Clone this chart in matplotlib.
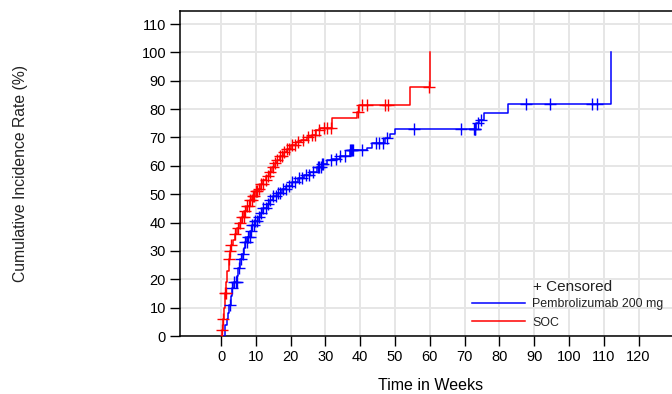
import numpy as np
import matplotlib
matplotlib.use("Agg")
import matplotlib.pyplot as plt
from matplotlib.lines import Line2D

plt.rcParams["font.family"] = ["Liberation Sans", "DejaVu Sans"]

# Cumulative incidence step functions (time in weeks, cumulative %)
pembro_times = [0.0, 1.2, 1.6, 2.0, 2.4, 2.8, 3.2, 3.6, 4.6, 5.0, 5.5, 6.0, 6.5,
                7.0, 7.6, 8.3, 9.0, 9.8, 10.5, 11.2, 12.2, 13.1, 14.0, 15.0,
                16.2, 17.4, 18.8, 20.4, 22.0, 23.8, 25.5, 27.5, 29.0, 30.5,
                32.0, 34.2, 37.0, 41.9, 43.3, 47.0, 48.6, 50.0, 73.3, 74.1,
                75.7, 82.4, 112.1]
pembro_rate = [0.0, 4.0, 6.0, 8.0, 11.0, 14.0, 17.0, 19.0, 21.0, 24.0, 27.0,
               29.0, 31.0, 33.0, 35.0, 37.0, 39.0, 40.5, 42.0, 43.5, 45.0,
               46.5, 48.0, 49.5, 50.5, 52.0, 53.0, 54.4, 55.6, 56.8, 58.0,
               59.5, 60.5, 62.0, 62.5, 63.5, 65.6, 66.4, 68.0, 69.7, 71.4,
               72.9, 75.0, 76.0, 78.7, 81.7, 100.0]
pembro_censored = [2.6, 3.2, 3.8, 4.2, 4.5, 5.2, 5.8, 6.4, 7.0, 7.4, 7.8, 8.2,
                   8.6, 9.0, 9.4, 9.8, 10.4, 11.0, 11.6, 12.2, 12.8, 13.4,
                   14.2, 15.0, 15.8, 16.4, 17.0, 17.8, 18.6, 19.4, 20.4, 21.2,
                   22.5, 23.2, 24.4, 25.4, 26.5, 27.8, 28.2, 28.6, 29.0, 29.4,
                   31.5, 33.0, 34.2, 35.5, 37.0, 37.3, 37.6, 38.0, 40.5, 44.5,
                   45.5, 46.5, 47.8, 55.5, 69.0, 72.6, 72.9, 73.1, 74.0, 74.8,
                   87.8, 94.5, 106.6, 108.2]

soc_times = [0.0, 0.2, 0.5, 0.8, 1.1, 1.4, 1.8, 2.2, 2.6, 3.0, 3.5, 4.0, 4.6,
             5.3, 6.0, 6.7, 7.4, 8.2, 9.0, 9.8, 10.6, 11.4, 12.2, 13.0, 13.8,
             14.6, 15.4, 16.2, 17.0, 18.0, 19.0, 20.0, 21.5, 23.0, 24.6, 26.0,
             27.3, 28.5, 31.9, 39.0, 39.6, 54.3, 60.0]
soc_rate = [0.0, 2.0, 6.0, 10.0, 15.0, 19.0, 23.0, 27.0, 30.0, 32.0, 34.0,
            36.0, 38.0, 40.0, 42.0, 44.0, 46.0, 48.0, 49.5, 51.0, 52.0, 53.5,
            55.0, 56.5, 58.0, 59.5, 61.0, 62.0, 63.5, 65.0, 66.0, 67.5, 68.5,
            69.0, 70.0, 71.0, 72.5, 73.5, 77.0, 79.0, 81.5, 87.7, 100.0]
soc_censored = [0.3, 0.6, 1.1, 1.3, 2.3, 2.6, 3.0, 4.0, 5.0, 5.5, 6.0, 6.5,
                7.0, 7.5, 8.0, 8.4, 8.8, 9.2, 9.6, 10.0, 10.4, 10.8, 11.5,
                12.0, 12.8, 13.5, 14.2, 15.0, 15.5, 16.2, 17.0, 17.5, 18.2,
                19.0, 19.6, 20.5, 21.2, 22.0, 23.5, 25.0, 26.0, 27.0, 28.2,
                29.5, 30.5, 31.5, 39.3, 40.5, 42.0, 47.1, 48.1, 59.9]

x_ticks = list(range(0, 130, 10))
y_ticks = list(range(0, 120, 10))

series = [
    ("Pembrolizumab 200 mg", pembro_times, pembro_rate, pembro_censored, "#0000ff"),
    ("SOC", soc_times, soc_rate, soc_censored, "#ff0000"),
]

W, H = 672, 394
fig = plt.figure(figsize=(W / 100, H / 100), dpi=100)
ax = fig.add_axes([180 / W, 1 - 336 / H, (682 - 180) / W, (336 - 11) / H])

for label, t, r, cens, col in series:
    t = np.asarray(t)
    r = np.asarray(r)
    ax.step(t, r, where="post", color=col, lw=1.1, zorder=3)
    c = np.asarray(cens)
    cy = r[np.searchsorted(t, c, side="right") - 1]
    ax.plot(c, cy, ls="none", marker="+", ms=8.5, mew=1.0, color=col, zorder=4)

ax.set_xlim(-11.8, 132.5)
ax.set_ylim(0, 114.6)
ax.set_xticks(x_ticks)
ax.set_yticks(y_ticks)
ax.tick_params(axis="both", direction="out", length=7, width=1.0,
               labelsize=10.5, colors="black", pad=3)
ax.grid(True, color="#e6e6e6", lw=1.4, zorder=0)
ax.set_axisbelow(True)
for s in ["left", "bottom", "top"]:
    ax.spines[s].set_linewidth(1.1)
ax.spines["right"].set_visible(False)

ax.set_xlabel("Time in Weeks", fontsize=11.5, labelpad=10)
fig.text(21 / W, 1 - 173.5 / H, "Cumulative Incidence Rate (%)", rotation=90,
         ha="center", va="center", fontsize=11.3, color="#222222")

fig.text(533 / W, 1 - 287 / H, "+ Censored", ha="left", va="center",
         fontsize=11, color="#222222")
handles = [Line2D([], [], color=col, lw=1.1) for _, _, _, _, col in series]
labels = [s[0] for s in series]
leg = fig.legend(handles, labels, loc="upper left",
                 bbox_to_anchor=(472 / W, 1 - 298 / H), frameon=False,
                 fontsize=8.9, handlelength=4.25, handletextpad=0.6,
                 labelspacing=0.55, borderaxespad=0, borderpad=0)
for txt in leg.get_texts():
    txt.set_color("#222222")

fig.savefig("out.png", dpi=100)
